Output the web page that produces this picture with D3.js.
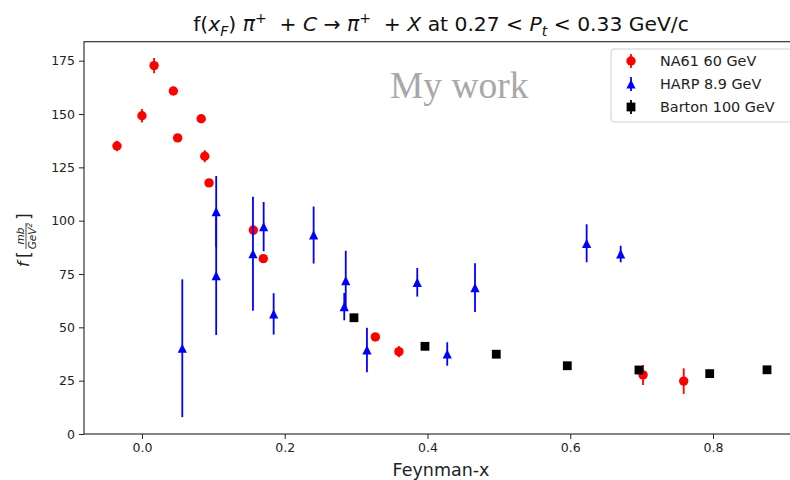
<!DOCTYPE html>
<html>
<head>
<meta charset="utf-8">
<script src="https://cdn.jsdelivr.net/npm/d3@7"></script>
<style>
  html, body { margin: 0; padding: 0; background: #fff; }
  svg { display: block; font-family: "DejaVu Sans", sans-serif; }
</style>
</head>
<body>
<svg id="chart" width="790" height="480"></svg>
<script>
// NA61 60 GeV
const na61X   = [-0.035, 0.000, 0.017, 0.044, 0.050, 0.083, 0.088, 0.094, 0.156, 0.170, 0.327, 0.360, 0.702, 0.759];
const na61Y   = [135.0, 149.2, 172.7, 160.8, 138.8, 147.8, 130.2, 117.7, 95.6, 82.2, 45.5, 38.6, 27.7, 24.8];
const na61Err = [2.5, 3.2, 3.6, 1.2, 1.2, 1.2, 2.8, 1.2, 1.2, 1.2, 1.5, 2.6, 4.7, 6.0];

// HARP 8.9 GeV
const harpX   = [0.0565, 0.104, 0.104, 0.1555, 0.1705, 0.1845, 0.2405, 0.2855, 0.2834, 0.3152, 0.3857, 0.4277, 0.4666, 0.623, 0.6707];
const harpY   = [40.2, 104.2, 74.2, 84.5, 97.2, 56.3, 93.3, 71.9, 59.7, 39.4, 71.1, 37.5, 68.6, 89.4, 84.4];
const harpErr = [32.3, 16.7, 27.8, 26.7, 11.5, 9.7, 13.4, 14.0, 6.4, 10.4, 6.7, 5.5, 11.4, 8.9, 3.9];

// Barton 100 GeV
const bartonX   = [0.297, 0.3965, 0.4964, 0.5959, 0.6963, 0.7954, 0.8757];
const bartonY   = [54.5, 41.1, 37.4, 32.0, 30.0, 28.3, 30.1];
const bartonErr = [0.8, 0.6, 0.6, 0.5, 0.5, 0.5, 0.5];

const xTicks = [0.0, 0.2, 0.4, 0.6, 0.8];
const yTicks = [0, 25, 50, 75, 100, 125, 150, 175];
const legendLabels = ["NA61 60 GeV", "HARP 8.9 GeV", "Barton 100 GeV"];

const svg = d3.select("#chart");
const L = 84, R = 798, T = 41.7, B = 434;

const x = d3.scaleLinear().domain([-0.0812, 0.9191]).range([L, R]);
const y = d3.scaleLinear().domain([0, 183.9]).range([B, T]);

svg.append("defs").append("clipPath").attr("id", "plotClip")
  .append("rect").attr("x", L).attr("y", T).attr("width", R - L).attr("height", B - T);

// axes
const xAxis = svg.append("g").attr("transform", `translate(0,${B})`)
  .call(d3.axisBottom(x).tickValues(xTicks).tickFormat(d3.format(".1f")).tickSizeOuter(0).tickSize(5).tickPadding(4));
const yAxis = svg.append("g").attr("transform", `translate(${L},0)`)
  .call(d3.axisLeft(y).tickValues(yTicks).tickFormat(d => d).tickSizeOuter(0).tickSize(5).tickPadding(4));
[xAxis, yAxis].forEach(g => {
  g.selectAll("text").attr("font-size", 12.5).attr("fill", "#222").attr("font-family", "DejaVu Sans");
  g.selectAll("line").attr("stroke", "#222").attr("stroke-width", 1);
  g.select(".domain").remove();
});

// frame
svg.append("rect").attr("x", L).attr("y", T).attr("width", R - L).attr("height", B - T)
  .attr("fill", "none").attr("stroke", "#222").attr("stroke-width", 1.1);

const plot = svg.append("g").attr("clip-path", "url(#plotClip)");

function errorBars(xs, ys, es, color) {
  plot.append("g").selectAll("line").data(xs).join("line")
    .attr("x1", (d) => x(d)).attr("x2", (d) => x(d))
    .attr("y1", (d, i) => y(ys[i] - es[i])).attr("y2", (d, i) => y(ys[i] + es[i]))
    .attr("stroke", color).attr("stroke-width", 1.8);
}

const triPath = (s) => `M0,${-s}L${s},${s}L${-s},${s}Z`;

// NA61
errorBars(na61X, na61Y, na61Err, "#ff0000");
plot.append("g").selectAll("circle").data(na61X).join("circle")
  .attr("cx", d => x(d)).attr("cy", (d, i) => y(na61Y[i])).attr("r", 4.7).attr("fill", "#ff0000");

// HARP
errorBars(harpX, harpY, harpErr, "#0000ff");
plot.append("g").selectAll("path").data(harpX).join("path")
  .attr("d", triPath(4.6))
  .attr("transform", (d, i) => `translate(${x(d)},${y(harpY[i])})`).attr("fill", "#0000ff");

// Barton
errorBars(bartonX, bartonY, bartonErr, "#000");
plot.append("g").selectAll("rect").data(bartonX).join("rect")
  .attr("x", d => x(d) - 4.4).attr("y", (d, i) => y(bartonY[i]) - 4.4)
  .attr("width", 8.8).attr("height", 8.8).attr("fill", "#000");

// watermark
svg.append("text").attr("x", 390).attr("y", 98)
  .attr("font-family", "Liberation Serif, serif").attr("font-size", 37.5).attr("fill", "#a8a8a8")
  .text("My work");

// legend
const lg = svg.append("g");
lg.append("rect").attr("x", 611).attr("y", 49).attr("width", 181).attr("height", 73)
  .attr("rx", 3).attr("fill", "#fff").attr("fill-opacity", 0.8).attr("stroke", "#d0d0d0");
const legendColors = ["#ff0000", "#0000ff", "#000"];
const rowY = [61, 84, 107];
legendLabels.forEach((lab, i) => {
  const cy = rowY[i], cx = 631;
  lg.append("line").attr("x1", cx).attr("x2", cx).attr("y1", cy - 7).attr("y2", cy + 7)
    .attr("stroke", legendColors[i]).attr("stroke-width", 1.8);
  if (i === 0) lg.append("circle").attr("cx", cx).attr("cy", cy).attr("r", 4.7).attr("fill", legendColors[i]);
  if (i === 1) lg.append("path").attr("d", triPath(4.6)).attr("transform", `translate(${cx},${cy})`).attr("fill", legendColors[i]);
  if (i === 2) lg.append("rect").attr("x", cx - 4.4).attr("y", cy - 4.4).attr("width", 8.8).attr("height", 8.8).attr("fill", legendColors[i]);
  lg.append("text").attr("x", 660).attr("y", cy + 5).attr("font-size", 14.4).attr("fill", "#222").text(lab);
});

// title, mathtext-like pieces: [text, kind]
const parts = [
  ["f(", ""], ["x", "i"], ["F", "isub"], [") ", ""], ["π", "i"], ["+", "sup"], ["  + ", ""],
  ["C", "i"], [" → ", ""], ["π", "i"], ["+", "sup"], ["  + ", ""], ["X", "i"], [" at 0.27 < ", ""],
  ["P", "i"], ["t", "isub"], [" < 0.33 GeV/c", ""]
];
const off = k => (k.includes("sub") ? 4.5 : k === "sup" ? -8 : 0);
const title = svg.append("text").attr("x", 441).attr("y", 31).attr("text-anchor", "middle")
  .attr("font-size", 20.3).attr("fill", "#111").attr("xml:space", "preserve");
parts.forEach(([t, k], i) => {
  const ts = title.append("tspan").text(t);
  if (k.includes("i")) ts.attr("font-style", "italic");
  if (k.includes("sub") || k === "sup") ts.attr("font-size", 14);
  const prevOff = i > 0 ? off(parts[i - 1][1]) : 0;
  if (off(k) - prevOff !== 0) ts.attr("dy", off(k) - prevOff);
});

// x label
svg.append("text").attr("x", 441).attr("y", 476).attr("text-anchor", "middle")
  .attr("font-size", 17.5).attr("fill", "#222").text("Feynman-x");

// y label: f [ mb / GeV^2 ]
const yl = svg.append("g").attr("transform", "translate(29,237) rotate(-90)").attr("fill", "#222");
yl.append("text").attr("x", -30).attr("y", 0).attr("font-size", 15.5).attr("font-style", "italic").text("f");
yl.append("text").attr("x", -21).attr("y", 1).attr("font-size", 17).text("[");
yl.append("text").attr("x", 1).attr("y", -5).attr("text-anchor", "middle").attr("font-size", 10.5).attr("font-style", "italic").text("mb");
yl.append("line").attr("x1", -12).attr("x2", 14).attr("y1", -3).attr("y2", -3).attr("stroke", "#222").attr("stroke-width", 0.8);
const den = yl.append("text").attr("x", 1).attr("y", 6.5).attr("text-anchor", "middle").attr("font-size", 10.5).attr("font-style", "italic");
den.append("tspan").text("GeV");
den.append("tspan").attr("font-size", 7.5).attr("dy", -4).text("2");
yl.append("text").attr("x", 17).attr("y", 1).attr("font-size", 17).text("]");
</script>
</body>
</html>
